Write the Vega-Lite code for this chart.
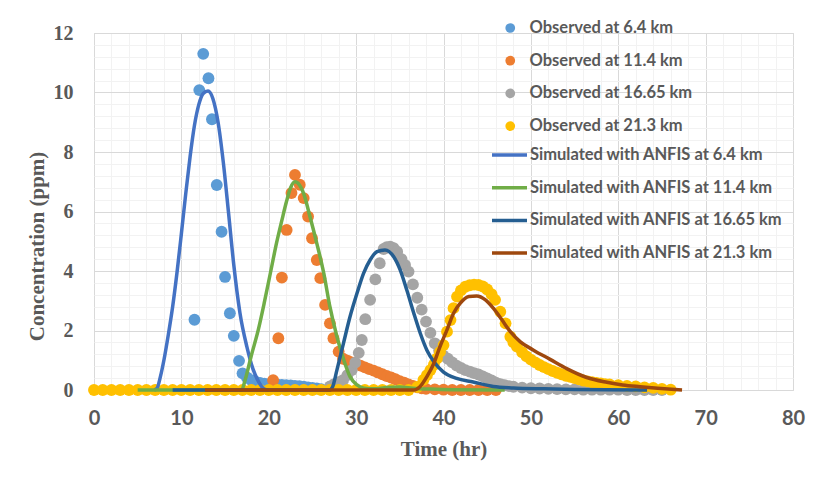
{
  "$schema": "https://vega.github.io/schema/vega-lite/v6.json",
  "width": 699,
  "height": 357,
  "autosize": {"type": "none"},
  "padding": {"left": 94, "top": 33, "right": 21, "bottom": 91},
  "background": "white",
  "config": {"view": {"stroke": "#D9D9D9", "strokeWidth": 1}},
  "datasets": {
    "obs": [
      {"k": "6.4", "t": 11.5, "c": 2.36},
      {"k": "6.4", "t": 12.05, "c": 10.08},
      {"k": "6.4", "t": 12.5, "c": 11.3},
      {"k": "6.4", "t": 13.1, "c": 10.48},
      {"k": "6.4", "t": 13.5, "c": 9.1},
      {"k": "6.4", "t": 14.05, "c": 6.89},
      {"k": "6.4", "t": 14.6, "c": 5.32},
      {"k": "6.4", "t": 15.0, "c": 3.8},
      {"k": "6.4", "t": 15.55, "c": 2.58},
      {"k": "6.4", "t": 16.0, "c": 1.82},
      {"k": "6.4", "t": 16.6, "c": 0.98},
      {"k": "6.4", "t": 17.0, "c": 0.56},
      {"k": "6.4", "t": 17.5, "c": 0.42},
      {"k": "6.4", "t": 18.0, "c": 0.33},
      {"k": "6.4", "t": 18.5, "c": 0.28},
      {"k": "6.4", "t": 19.0, "c": 0.24},
      {"k": "6.4", "t": 19.5, "c": 0.21},
      {"k": "6.4", "t": 20.0, "c": 0.2},
      {"k": "6.4", "t": 20.5, "c": 0.19},
      {"k": "6.4", "t": 21.0, "c": 0.18},
      {"k": "6.4", "t": 21.5, "c": 0.17},
      {"k": "6.4", "t": 22.0, "c": 0.16},
      {"k": "6.4", "t": 22.5, "c": 0.15},
      {"k": "6.4", "t": 23.0, "c": 0.14},
      {"k": "6.4", "t": 23.5, "c": 0.13},
      {"k": "6.4", "t": 24.0, "c": 0.11},
      {"k": "6.4", "t": 24.5, "c": 0.09},
      {"k": "6.4", "t": 25.0, "c": 0.07},
      {"k": "6.4", "t": 25.5, "c": 0.05},
      {"k": "6.4", "t": 26.0, "c": 0.03},
      {"k": "11.4", "t": 20.5, "c": 0.33},
      {"k": "11.4", "t": 21.1, "c": 1.74},
      {"k": "11.4", "t": 21.5, "c": 3.78},
      {"k": "11.4", "t": 22.05, "c": 5.38},
      {"k": "11.4", "t": 22.6, "c": 6.62},
      {"k": "11.4", "t": 23.0, "c": 7.23},
      {"k": "11.4", "t": 23.55, "c": 6.9},
      {"k": "11.4", "t": 24.0, "c": 6.45},
      {"k": "11.4", "t": 24.5, "c": 5.83},
      {"k": "11.4", "t": 24.95, "c": 5.1},
      {"k": "11.4", "t": 25.5, "c": 4.37},
      {"k": "11.4", "t": 25.9, "c": 3.76},
      {"k": "11.4", "t": 26.45, "c": 2.86},
      {"k": "11.4", "t": 27.0, "c": 2.24},
      {"k": "11.4", "t": 27.4, "c": 1.74},
      {"k": "11.4", "t": 28.0, "c": 1.29},
      {"k": "11.4", "t": 28.5, "c": 1.05},
      {"k": "11.4", "t": 29.0, "c": 0.99},
      {"k": "11.4", "t": 29.5, "c": 0.93},
      {"k": "11.4", "t": 30.0, "c": 0.88},
      {"k": "11.4", "t": 30.5, "c": 0.82},
      {"k": "11.4", "t": 31.0, "c": 0.76},
      {"k": "11.4", "t": 31.5, "c": 0.7},
      {"k": "11.4", "t": 32.0, "c": 0.65},
      {"k": "11.4", "t": 32.5, "c": 0.59},
      {"k": "11.4", "t": 33.0, "c": 0.53},
      {"k": "11.4", "t": 33.5, "c": 0.47},
      {"k": "11.4", "t": 34.0, "c": 0.42},
      {"k": "11.4", "t": 34.5, "c": 0.36},
      {"k": "11.4", "t": 35.0, "c": 0.3},
      {"k": "11.4", "t": 35.5, "c": 0.25},
      {"k": "11.4", "t": 36.0, "c": 0.19},
      {"k": "11.4", "t": 36.5, "c": 0.14},
      {"k": "11.4", "t": 37.0, "c": 0.09},
      {"k": "11.4", "t": 37.5, "c": 0.06},
      {"k": "11.4", "t": 38.0, "c": 0.04},
      {"k": "11.4", "t": 39.0, "c": 0.02},
      {"k": "11.4", "t": 40.0, "c": 0.01},
      {"k": "11.4", "t": 41.0, "c": 0},
      {"k": "11.4", "t": 42.0, "c": 0},
      {"k": "11.4", "t": 43.0, "c": 0},
      {"k": "11.4", "t": 44.0, "c": 0},
      {"k": "11.4", "t": 45.0, "c": 0},
      {"k": "11.4", "t": 46.0, "c": 0},
      {"k": "16.65", "t": 27.0, "c": 0.12},
      {"k": "16.65", "t": 27.5, "c": 0.2},
      {"k": "16.65", "t": 28.0, "c": 0.26},
      {"k": "16.65", "t": 28.5, "c": 0.33},
      {"k": "16.65", "t": 29.0, "c": 0.5},
      {"k": "16.65", "t": 29.5, "c": 0.67},
      {"k": "16.65", "t": 29.9, "c": 0.92},
      {"k": "16.65", "t": 30.3, "c": 1.25},
      {"k": "16.65", "t": 30.65, "c": 1.68},
      {"k": "16.65", "t": 31.05, "c": 2.38},
      {"k": "16.65", "t": 31.6, "c": 3.03},
      {"k": "16.65", "t": 32.2, "c": 3.72},
      {"k": "16.65", "t": 32.7, "c": 4.26},
      {"k": "16.65", "t": 33.15, "c": 4.74},
      {"k": "16.65", "t": 33.5, "c": 4.8},
      {"k": "16.65", "t": 33.9, "c": 4.82},
      {"k": "16.65", "t": 34.3, "c": 4.77},
      {"k": "16.65", "t": 34.7, "c": 4.65},
      {"k": "16.65", "t": 35.2, "c": 4.4},
      {"k": "16.65", "t": 35.6, "c": 4.2},
      {"k": "16.65", "t": 36.0, "c": 3.98},
      {"k": "16.65", "t": 36.5, "c": 3.55},
      {"k": "16.65", "t": 37.0, "c": 3.1},
      {"k": "16.65", "t": 37.5, "c": 2.7},
      {"k": "16.65", "t": 38.0, "c": 2.3},
      {"k": "16.65", "t": 38.5, "c": 1.92},
      {"k": "16.65", "t": 39.0, "c": 1.57},
      {"k": "16.65", "t": 39.5, "c": 1.33},
      {"k": "16.65", "t": 40.0, "c": 1.15},
      {"k": "16.65", "t": 40.5, "c": 1.05},
      {"k": "16.65", "t": 41.0, "c": 0.93},
      {"k": "16.65", "t": 41.5, "c": 0.82},
      {"k": "16.65", "t": 42.0, "c": 0.74},
      {"k": "16.65", "t": 42.5, "c": 0.67},
      {"k": "16.65", "t": 43.0, "c": 0.62},
      {"k": "16.65", "t": 43.5, "c": 0.57},
      {"k": "16.65", "t": 44.0, "c": 0.52},
      {"k": "16.65", "t": 44.5, "c": 0.46},
      {"k": "16.65", "t": 45.0, "c": 0.39},
      {"k": "16.65", "t": 45.5, "c": 0.32},
      {"k": "16.65", "t": 46.0, "c": 0.25},
      {"k": "16.65", "t": 46.5, "c": 0.2},
      {"k": "16.65", "t": 47.0, "c": 0.16},
      {"k": "16.65", "t": 47.5, "c": 0.13},
      {"k": "16.65", "t": 48.0, "c": 0.11},
      {"k": "16.65", "t": 49.0, "c": 0.08},
      {"k": "16.65", "t": 50.0, "c": 0.06},
      {"k": "16.65", "t": 51.0, "c": 0.05},
      {"k": "16.65", "t": 52.0, "c": 0.04},
      {"k": "16.65", "t": 53.0, "c": 0.03},
      {"k": "16.65", "t": 54.0, "c": 0.02},
      {"k": "16.65", "t": 55.0, "c": 0.02},
      {"k": "16.65", "t": 56.0, "c": 0.01},
      {"k": "16.65", "t": 57.0, "c": 0.01},
      {"k": "16.65", "t": 58.0, "c": 0.01},
      {"k": "16.65", "t": 59.0, "c": 0.01},
      {"k": "16.65", "t": 60.0, "c": 0.01},
      {"k": "16.65", "t": 61.0, "c": 0},
      {"k": "16.65", "t": 62.0, "c": 0},
      {"k": "16.65", "t": 63.0, "c": 0},
      {"k": "16.65", "t": 64.0, "c": 0},
      {"k": "16.65", "t": 65.0, "c": 0},
      {"k": "21.3", "t": 0, "c": 0},
      {"k": "21.3", "t": 1, "c": 0},
      {"k": "21.3", "t": 2, "c": 0},
      {"k": "21.3", "t": 3, "c": 0},
      {"k": "21.3", "t": 4, "c": 0},
      {"k": "21.3", "t": 5, "c": 0},
      {"k": "21.3", "t": 6, "c": 0},
      {"k": "21.3", "t": 7, "c": 0},
      {"k": "21.3", "t": 8, "c": 0},
      {"k": "21.3", "t": 9, "c": 0},
      {"k": "21.3", "t": 10, "c": 0},
      {"k": "21.3", "t": 11, "c": 0},
      {"k": "21.3", "t": 12, "c": 0},
      {"k": "21.3", "t": 13, "c": 0},
      {"k": "21.3", "t": 14, "c": 0},
      {"k": "21.3", "t": 15, "c": 0},
      {"k": "21.3", "t": 16, "c": 0},
      {"k": "21.3", "t": 17, "c": 0},
      {"k": "21.3", "t": 18, "c": 0},
      {"k": "21.3", "t": 19, "c": 0},
      {"k": "21.3", "t": 20, "c": 0},
      {"k": "21.3", "t": 21, "c": 0},
      {"k": "21.3", "t": 22, "c": 0},
      {"k": "21.3", "t": 23, "c": 0},
      {"k": "21.3", "t": 24, "c": 0},
      {"k": "21.3", "t": 25, "c": 0},
      {"k": "21.3", "t": 26, "c": 0},
      {"k": "21.3", "t": 27, "c": 0},
      {"k": "21.3", "t": 28, "c": 0},
      {"k": "21.3", "t": 29, "c": 0},
      {"k": "21.3", "t": 30, "c": 0},
      {"k": "21.3", "t": 31, "c": 0},
      {"k": "21.3", "t": 32, "c": 0},
      {"k": "21.3", "t": 33, "c": 0},
      {"k": "21.3", "t": 34, "c": 0},
      {"k": "21.3", "t": 35, "c": 0},
      {"k": "21.3", "t": 36, "c": 0},
      {"k": "21.3", "t": 37.0, "c": 0.1},
      {"k": "21.3", "t": 37.7, "c": 0.34},
      {"k": "21.3", "t": 38.1, "c": 0.5},
      {"k": "21.3", "t": 38.5, "c": 0.67},
      {"k": "21.3", "t": 38.9, "c": 0.85},
      {"k": "21.3", "t": 39.25, "c": 1.06},
      {"k": "21.3", "t": 39.6, "c": 1.28},
      {"k": "21.3", "t": 40.0, "c": 1.51},
      {"k": "21.3", "t": 40.4, "c": 1.96},
      {"k": "21.3", "t": 40.8, "c": 2.35},
      {"k": "21.3", "t": 41.15, "c": 2.75},
      {"k": "21.3", "t": 41.55, "c": 3.14},
      {"k": "21.3", "t": 42.0, "c": 3.35},
      {"k": "21.3", "t": 42.5, "c": 3.47},
      {"k": "21.3", "t": 43.0, "c": 3.52},
      {"k": "21.3", "t": 43.5, "c": 3.54},
      {"k": "21.3", "t": 44.0, "c": 3.53},
      {"k": "21.3", "t": 44.5, "c": 3.48},
      {"k": "21.3", "t": 45.0, "c": 3.38},
      {"k": "21.3", "t": 45.5, "c": 3.22},
      {"k": "21.3", "t": 45.9, "c": 3.03},
      {"k": "21.3", "t": 46.5, "c": 2.63},
      {"k": "21.3", "t": 47.1, "c": 2.24},
      {"k": "21.3", "t": 47.65, "c": 1.79},
      {"k": "21.3", "t": 48.0, "c": 1.6},
      {"k": "21.3", "t": 48.4, "c": 1.46},
      {"k": "21.3", "t": 49.0, "c": 1.27},
      {"k": "21.3", "t": 49.5, "c": 1.13},
      {"k": "21.3", "t": 50.0, "c": 1.02},
      {"k": "21.3", "t": 50.5, "c": 0.93},
      {"k": "21.3", "t": 51.0, "c": 0.84},
      {"k": "21.3", "t": 51.5, "c": 0.77},
      {"k": "21.3", "t": 52.0, "c": 0.7},
      {"k": "21.3", "t": 52.5, "c": 0.64},
      {"k": "21.3", "t": 53.0, "c": 0.58},
      {"k": "21.3", "t": 53.5, "c": 0.53},
      {"k": "21.3", "t": 54.0, "c": 0.48},
      {"k": "21.3", "t": 54.5, "c": 0.44},
      {"k": "21.3", "t": 55.0, "c": 0.4},
      {"k": "21.3", "t": 55.5, "c": 0.36},
      {"k": "21.3", "t": 56.0, "c": 0.32},
      {"k": "21.3", "t": 56.5, "c": 0.29},
      {"k": "21.3", "t": 57.0, "c": 0.26},
      {"k": "21.3", "t": 57.5, "c": 0.24},
      {"k": "21.3", "t": 58.0, "c": 0.22},
      {"k": "21.3", "t": 58.5, "c": 0.2},
      {"k": "21.3", "t": 59.0, "c": 0.19},
      {"k": "21.3", "t": 60.0, "c": 0.16},
      {"k": "21.3", "t": 61.0, "c": 0.14},
      {"k": "21.3", "t": 62.0, "c": 0.12},
      {"k": "21.3", "t": 63.0, "c": 0.09},
      {"k": "21.3", "t": 64.0, "c": 0.07},
      {"k": "21.3", "t": 65.0, "c": 0.04},
      {"k": "21.3", "t": 66.0, "c": 0.01}
    ],
    "sim": [
      {"k": "s6.4", "t": 6.9, "c": 0},
      {"k": "s6.4", "t": 7.2, "c": 0.05},
      {"k": "s6.4", "t": 7.6, "c": 0.45},
      {"k": "s6.4", "t": 8.0, "c": 1.0},
      {"k": "s6.4", "t": 8.5, "c": 1.85},
      {"k": "s6.4", "t": 9.0, "c": 2.8},
      {"k": "s6.4", "t": 9.5, "c": 3.95},
      {"k": "s6.4", "t": 10.0, "c": 5.25},
      {"k": "s6.4", "t": 10.5, "c": 6.6},
      {"k": "s6.4", "t": 11.0, "c": 7.85},
      {"k": "s6.4", "t": 11.5, "c": 8.9},
      {"k": "s6.4", "t": 12.0, "c": 9.6},
      {"k": "s6.4", "t": 12.5, "c": 9.97},
      {"k": "s6.4", "t": 13.05, "c": 10.05},
      {"k": "s6.4", "t": 13.6, "c": 9.8},
      {"k": "s6.4", "t": 14.2, "c": 9.0},
      {"k": "s6.4", "t": 14.8, "c": 7.65},
      {"k": "s6.4", "t": 15.4, "c": 5.95},
      {"k": "s6.4", "t": 16.0, "c": 4.2},
      {"k": "s6.4", "t": 16.7, "c": 2.6},
      {"k": "s6.4", "t": 17.5, "c": 1.45},
      {"k": "s6.4", "t": 18.2, "c": 0.7},
      {"k": "s6.4", "t": 18.8, "c": 0.3},
      {"k": "s6.4", "t": 19.5, "c": 0.03},
      {"k": "s6.4", "t": 20.0, "c": 0},
      {"k": "s11.4", "t": 5.0, "c": 0},
      {"k": "s11.4", "t": 16.9, "c": 0},
      {"k": "s11.4", "t": 17.3, "c": 0.34},
      {"k": "s11.4", "t": 18.0, "c": 1.15},
      {"k": "s11.4", "t": 18.8, "c": 2.02},
      {"k": "s11.4", "t": 19.5, "c": 2.95},
      {"k": "s11.4", "t": 20.2, "c": 3.95},
      {"k": "s11.4", "t": 20.9, "c": 4.95},
      {"k": "s11.4", "t": 21.5, "c": 5.7},
      {"k": "s11.4", "t": 22.0, "c": 6.3},
      {"k": "s11.4", "t": 22.5, "c": 6.8},
      {"k": "s11.4", "t": 23.0, "c": 7.0},
      {"k": "s11.4", "t": 23.5, "c": 6.9},
      {"k": "s11.4", "t": 24.0, "c": 6.6},
      {"k": "s11.4", "t": 24.7, "c": 5.85},
      {"k": "s11.4", "t": 25.5, "c": 4.93},
      {"k": "s11.4", "t": 26.3, "c": 3.92},
      {"k": "s11.4", "t": 27.0, "c": 2.8},
      {"k": "s11.4", "t": 27.8, "c": 1.8},
      {"k": "s11.4", "t": 28.6, "c": 1.0},
      {"k": "s11.4", "t": 29.3, "c": 0.45},
      {"k": "s11.4", "t": 30.1, "c": 0.17},
      {"k": "s11.4", "t": 30.9, "c": 0.06},
      {"k": "s11.4", "t": 32.0, "c": 0.04},
      {"k": "s11.4", "t": 33.5, "c": 0.08},
      {"k": "s11.4", "t": 35.0, "c": 0.1},
      {"k": "s11.4", "t": 36.5, "c": 0.06},
      {"k": "s11.4", "t": 38.5, "c": 0.03},
      {"k": "s11.4", "t": 41.0, "c": 0.01},
      {"k": "s11.4", "t": 47.0, "c": 0},
      {"k": "s16.65", "t": 9.0, "c": 0},
      {"k": "s16.65", "t": 27.0, "c": 0},
      {"k": "s16.65", "t": 27.3, "c": 0.1},
      {"k": "s16.65", "t": 27.8, "c": 0.67},
      {"k": "s16.65", "t": 28.55, "c": 1.57},
      {"k": "s16.65", "t": 29.3, "c": 2.46},
      {"k": "s16.65", "t": 30.1, "c": 3.25},
      {"k": "s16.65", "t": 30.85, "c": 3.92},
      {"k": "s16.65", "t": 31.6, "c": 4.37},
      {"k": "s16.65", "t": 32.4, "c": 4.65},
      {"k": "s16.65", "t": 33.3, "c": 4.71},
      {"k": "s16.65", "t": 34.3, "c": 4.48},
      {"k": "s16.65", "t": 35.05, "c": 4.03},
      {"k": "s16.65", "t": 35.8, "c": 3.36},
      {"k": "s16.65", "t": 36.6, "c": 2.58},
      {"k": "s16.65", "t": 37.35, "c": 1.9},
      {"k": "s16.65", "t": 38.1, "c": 1.34},
      {"k": "s16.65", "t": 38.9, "c": 0.95},
      {"k": "s16.65", "t": 40.0, "c": 0.6},
      {"k": "s16.65", "t": 41.5, "c": 0.39},
      {"k": "s16.65", "t": 43.4, "c": 0.27},
      {"k": "s16.65", "t": 45.7, "c": 0.12},
      {"k": "s16.65", "t": 48.0, "c": 0.07},
      {"k": "s16.65", "t": 51.5, "c": 0.04},
      {"k": "s16.65", "t": 55.0, "c": 0.02},
      {"k": "s16.65", "t": 63.3, "c": 0},
      {"k": "s21.3", "t": 12.7, "c": 0},
      {"k": "s21.3", "t": 36.6, "c": 0},
      {"k": "s21.3", "t": 37.3, "c": 0.11},
      {"k": "s21.3", "t": 38.1, "c": 0.45},
      {"k": "s21.3", "t": 38.9, "c": 0.9},
      {"k": "s21.3", "t": 39.6, "c": 1.46},
      {"k": "s21.3", "t": 40.4, "c": 2.02},
      {"k": "s21.3", "t": 41.15, "c": 2.58},
      {"k": "s21.3", "t": 41.9, "c": 2.91},
      {"k": "s21.3", "t": 42.9, "c": 3.14},
      {"k": "s21.3", "t": 43.8, "c": 3.16},
      {"k": "s21.3", "t": 44.8, "c": 3.03},
      {"k": "s21.3", "t": 45.7, "c": 2.75},
      {"k": "s21.3", "t": 46.7, "c": 2.35},
      {"k": "s21.3", "t": 47.65, "c": 1.96},
      {"k": "s21.3", "t": 48.8, "c": 1.62},
      {"k": "s21.3", "t": 50.3, "c": 1.34},
      {"k": "s21.3", "t": 52.2, "c": 1.03},
      {"k": "s21.3", "t": 54.1, "c": 0.72},
      {"k": "s21.3", "t": 56.4, "c": 0.42},
      {"k": "s21.3", "t": 58.7, "c": 0.26},
      {"k": "s21.3", "t": 60.5, "c": 0.17},
      {"k": "s21.3", "t": 62.5, "c": 0.11},
      {"k": "s21.3", "t": 64.5, "c": 0.06},
      {"k": "s21.3", "t": 67.3, "c": 0}
    ]
  },
  "resolve": {"axis": {"x": "independent", "y": "independent"}},
  "layer": [
    {
      "data": {"name": "obs"},
      "mark": {"type": "circle", "size": 140, "opacity": 1},
      "encoding": {
        "x": {
          "field": "t", "type": "quantitative",
          "scale": {"domain": [0, 80], "nice": false, "zero": false},
          "axis": {
            "orient": "bottom", "values": [0, 10, 20, 30, 40, 50, 60, 70, 80],
            "grid": true, "gridColor": "#D9D9D9", "gridWidth": 1,
            "domain": false, "ticks": false, "labelFlush": false,
            "labelFont": "Lato", "labelFontSize": 20, "labelFontWeight": "bold", "labelColor": "#595959",
            "labelPadding": 18,
            "title": "Time (hr)", "titleFont": "Liberation Serif", "titleFontSize": 21,
            "titleFontWeight": "bold", "titleColor": "#595959", "titlePadding": 10
          }
        },
        "y": {
          "field": "c", "type": "quantitative",
          "scale": {"domain": [0, 12], "nice": false},
          "axis": {
            "orient": "left", "values": [0, 2, 4, 6, 8, 10, 12],
            "grid": true, "gridColor": "#D9D9D9", "gridWidth": 1,
            "domain": false, "ticks": false, "labelFlush": false,
            "labelFont": "Liberation Serif", "labelFontSize": 20, "labelFontWeight": "bold", "labelColor": "#595959",
            "labelPadding": 21,
            "title": "Concentration (ppm)", "titleFont": "Liberation Serif", "titleFontSize": 21,
            "titleFontWeight": "bold", "titleColor": "#595959", "titlePadding": 6, "titleY": 213
          }
        },
        "color": {
          "field": "k", "type": "nominal",
          "scale": {"domain": ["6.4", "11.4", "16.65", "21.3"], "range": ["#5B9BD5", "#ED7D31", "#A5A5A5", "#FFC000"]},
          "legend": {
            "orient": "none", "legendX": 408, "legendY": -13, "title": null, "padding": 0,
            "symbolType": "circle", "symbolSize": 95, "symbolStrokeWidth": 0, "clipHeight": 16,
            "rowPadding": 15.7, "labelOffset": 11, "labelLimit": 400,
            "labelFont": "Lato", "labelFontSize": 16.5, "labelFontWeight": "bold", "labelColor": "#595959",
            "labelExpr": "'Observed at ' + datum.label + ' km'"
          }
        }
      }
    },
    {
      "data": {"name": "sim"},
      "transform": [{"filter": "datum.k == 's6.4'"}],
      "mark": {"type": "line", "strokeWidth": 3.5, "interpolate": "monotone"},
      "encoding": {
        "x": {
          "field": "t", "type": "quantitative",
          "axis": {
            "orient": "top", "values": [2, 4, 6, 8, 12, 14, 16, 18, 22, 24, 26, 28, 32, 34, 36, 38, 42, 44, 46, 48, 52, 54, 56, 58, 62, 64, 66, 68, 72, 74, 76, 78],
            "grid": true, "gridColor": "#F2F2F2", "gridWidth": 1,
            "domain": false, "ticks": false, "labels": false, "title": null
          }
        },
        "y": {
          "field": "c", "type": "quantitative",
          "axis": {
            "orient": "right", "values": [0.4, 0.8, 1.2, 1.6, 2.4, 2.8, 3.2, 3.6, 4.4, 4.8, 5.2, 5.6, 6.4, 6.8, 7.2, 7.6, 8.4, 8.8, 9.2, 9.6, 10.4, 10.8, 11.2, 11.6],
            "grid": true, "gridColor": "#F2F2F2", "gridWidth": 1,
            "domain": false, "ticks": false, "labels": false, "title": null
          }
        },
        "stroke": {
          "field": "k", "type": "nominal",
          "scale": {"domain": ["s6.4", "s11.4", "s16.65", "s21.3"], "range": ["#4472C4", "#70AD47", "#255E91", "#9E480E"]},
          "legend": {
            "orient": "none", "legendX": 396, "legendY": 114, "title": null, "padding": 0,
            "symbolType": "stroke", "symbolSize": 1225, "symbolStrokeWidth": 3.5, "clipHeight": 16,
            "rowPadding": 15.7, "labelOffset": 1, "labelLimit": 400,
            "labelFont": "Lato", "labelFontSize": 16.5, "labelFontWeight": "bold", "labelColor": "#595959",
            "labelExpr": "'Simulated with ANFIS at ' + slice(datum.label, 1) + ' km'"
          }
        }
      }
    },
    {
      "data": {"name": "sim"},
      "transform": [{"filter": "datum.k == 's11.4'"}],
      "mark": {"type": "line", "strokeWidth": 3.5, "interpolate": "monotone"},
      "encoding": {
        "x": {"field": "t", "type": "quantitative", "axis": null},
        "y": {"field": "c", "type": "quantitative", "axis": null},
        "stroke": {
          "field": "k", "type": "nominal",
          "scale": {"domain": ["s6.4", "s11.4", "s16.65", "s21.3"], "range": ["#4472C4", "#70AD47", "#255E91", "#9E480E"]},
          "legend": {
            "orient": "none", "legendX": 396, "legendY": 114, "title": null, "padding": 0,
            "symbolType": "stroke", "symbolSize": 1225, "symbolStrokeWidth": 3.5, "clipHeight": 16,
            "rowPadding": 15.7, "labelOffset": 1, "labelLimit": 400,
            "labelFont": "Lato", "labelFontSize": 16.5, "labelFontWeight": "bold", "labelColor": "#595959",
            "labelExpr": "'Simulated with ANFIS at ' + slice(datum.label, 1) + ' km'"
          }
        }
      }
    },
    {
      "data": {"name": "sim"},
      "transform": [{"filter": "datum.k == 's16.65'"}],
      "mark": {"type": "line", "strokeWidth": 3.5, "interpolate": "monotone"},
      "encoding": {
        "x": {"field": "t", "type": "quantitative", "axis": null},
        "y": {"field": "c", "type": "quantitative", "axis": null},
        "stroke": {
          "field": "k", "type": "nominal",
          "scale": {"domain": ["s6.4", "s11.4", "s16.65", "s21.3"], "range": ["#4472C4", "#70AD47", "#255E91", "#9E480E"]},
          "legend": {
            "orient": "none", "legendX": 396, "legendY": 114, "title": null, "padding": 0,
            "symbolType": "stroke", "symbolSize": 1225, "symbolStrokeWidth": 3.5, "clipHeight": 16,
            "rowPadding": 15.7, "labelOffset": 1, "labelLimit": 400,
            "labelFont": "Lato", "labelFontSize": 16.5, "labelFontWeight": "bold", "labelColor": "#595959",
            "labelExpr": "'Simulated with ANFIS at ' + slice(datum.label, 1) + ' km'"
          }
        }
      }
    },
    {
      "data": {"name": "sim"},
      "transform": [{"filter": "datum.k == 's21.3'"}],
      "mark": {"type": "line", "strokeWidth": 3.5, "interpolate": "monotone"},
      "encoding": {
        "x": {"field": "t", "type": "quantitative", "axis": null},
        "y": {"field": "c", "type": "quantitative", "axis": null},
        "stroke": {
          "field": "k", "type": "nominal",
          "scale": {"domain": ["s6.4", "s11.4", "s16.65", "s21.3"], "range": ["#4472C4", "#70AD47", "#255E91", "#9E480E"]},
          "legend": {
            "orient": "none", "legendX": 396, "legendY": 114, "title": null, "padding": 0,
            "symbolType": "stroke", "symbolSize": 1225, "symbolStrokeWidth": 3.5, "clipHeight": 16,
            "rowPadding": 15.7, "labelOffset": 1, "labelLimit": 400,
            "labelFont": "Lato", "labelFontSize": 16.5, "labelFontWeight": "bold", "labelColor": "#595959",
            "labelExpr": "'Simulated with ANFIS at ' + slice(datum.label, 1) + ' km'"
          }
        }
      }
    }
  ]
}
